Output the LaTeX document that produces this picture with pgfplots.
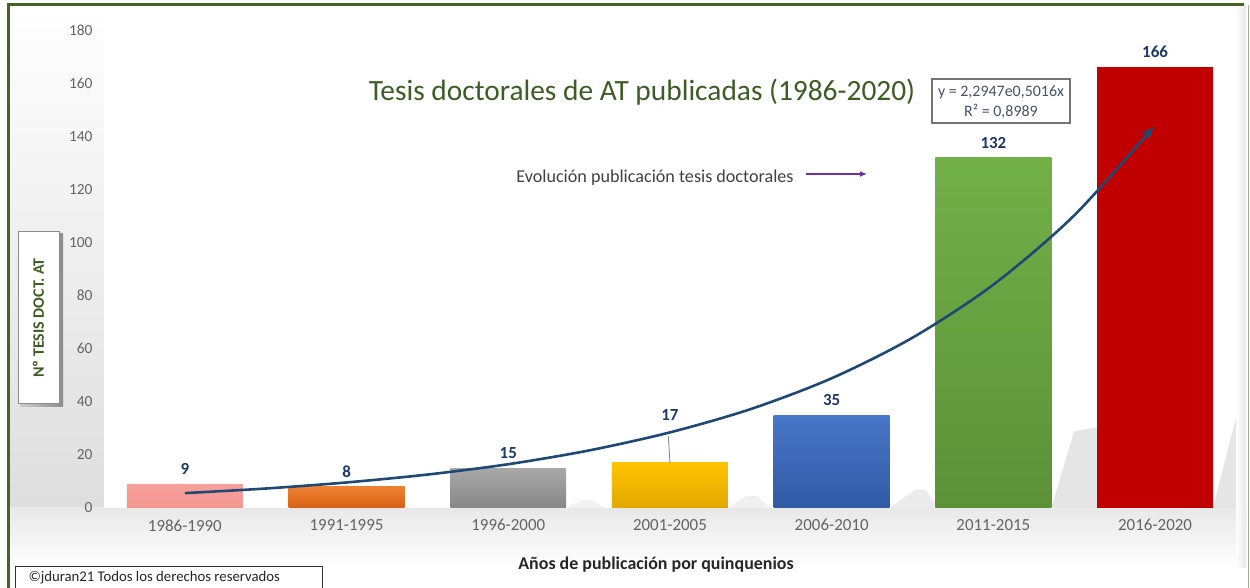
\documentclass[border=0pt]{standalone}
\usepackage{fontspec}
\setmainfont{Carlito}
\usepackage{pgfplots}
\pgfplotsset{compat=1.18}
\usetikzlibrary{arrows.meta}
\definecolor{framegreen}{RGB}{70,98,38}
\definecolor{titlegreen}{RGB}{62,92,38}
\definecolor{labelblue}{RGB}{31,56,100}
\definecolor{tickgray}{RGB}{100,100,100}
\definecolor{curveblue}{RGB}{31,73,115}
\definecolor{eqgray}{RGB}{70,82,105}
\definecolor{arrowpurple}{RGB}{112,48,160}
\definecolor{cPink}{RGB}{247,160,154}
\definecolor{cPinkB}{RGB}{244,150,144}
\definecolor{cOrange}{RGB}{238,128,52}
\definecolor{cOrangeB}{RGB}{215,98,20}
\definecolor{cGray}{RGB}{168,168,168}
\definecolor{cGrayB}{RGB}{135,135,135}
\definecolor{cYellow}{RGB}{255,195,0}
\definecolor{cYellowB}{RGB}{225,168,0}
\definecolor{cBlue}{RGB}{72,118,200}
\definecolor{cBlueB}{RGB}{50,90,165}
\definecolor{cGreen}{RGB}{114,176,72}
\definecolor{cGreenB}{RGB}{92,145,56}
\definecolor{cRed}{RGB}{192,0,0}
\begin{document}
\begin{tikzpicture}[x=1bp,y=1bp]
\useasboundingbox (0,0) rectangle (1250,588);
\fill[white] (0,0) rectangle (1250,588);
% background strips
\shade[top color=white, bottom color=black!13] (9,80) rectangle (104,583);
\shade[top color=black!9, bottom color=white] (9,20) rectangle (1246,80);
\shade[left color=white, right color=black!10] (1236,20) rectangle (1246,583);
\begin{axis}[
  at={(104bp,80bp)}, anchor=south west, scale only axis,
  width=1132bp, height=477.5bp,
  xmin=-0.5, xmax=6.5, ymin=0, ymax=180,
  ytick={0,20,...,180},
  xtick={0,...,6},
  xticklabels={1986-1990,1991-1995,1996-2000,2001-2005,2006-2010,2011-2015,2016-2020},
  axis line style={draw=none}, tick style={draw=none},
  /pgf/number format/assume math mode=true,
  yticklabel style={font=\fontsize{15.5}{15.5}\selectfont, text=tickgray, xshift=-8bp},
  xticklabel style={font=\fontsize{17}{17}\selectfont, text=tickgray, yshift=-8bp},
  axis background/.style={fill=white},
  nodes near coords style={font=\bfseries\fontsize{17}{17}\selectfont, text=labelblue, anchor=south, yshift=6bp},
]
% bar shadows
\addplot[fill=black, fill opacity=0.05, draw=none] coordinates {(2.358,0) (2.45,3) (2.52,3) (2.60,0)} \closedcycle;
\addplot[fill=black, fill opacity=0.06, draw=none] coordinates {(3.358,0) (3.47,4.5) (3.54,4.5) (3.62,0)} \closedcycle;
\addplot[fill=black, fill opacity=0.08, draw=none] coordinates {(4.358,0) (4.52,7) (4.58,7) (4.66,0)} \closedcycle;
\addplot[fill=black, fill opacity=0.10, draw=none] coordinates {(5.358,0) (5.50,29) (5.70,31) (5.75,0)} \closedcycle;
\addplot[fill=black, fill opacity=0.10, draw=none] coordinates {(6.358,0) (6.50,34) (6.50,0)} \closedcycle;
% bars
\addplot[ybar, bar shift=0, bar width=0.717, draw=none, top color=cPink, bottom color=cPinkB, nodes near coords] coordinates {(0,9)};
\addplot[ybar, bar shift=0, bar width=0.717, draw=none, top color=cOrange, bottom color=cOrangeB, nodes near coords] coordinates {(1,8)};
\addplot[ybar, bar shift=0, bar width=0.717, draw=none, top color=cGray, bottom color=cGrayB, nodes near coords] coordinates {(2,15)};
\addplot[ybar, bar shift=0, bar width=0.717, draw=none, top color=cYellow, bottom color=cYellowB, nodes near coords, nodes near coords style={yshift=33bp}] coordinates {(3,17)};
\addplot[ybar, bar shift=0, bar width=0.717, draw=none, top color=cBlue, bottom color=cBlueB, nodes near coords] coordinates {(4,35)};
\addplot[ybar, bar shift=0, bar width=0.717, draw=none, top color=cGreen, bottom color=cGreenB, nodes near coords] coordinates {(5,132)};
\addplot[ybar, bar shift=0, bar width=0.717, draw=none, top color=cRed, bottom color=cRed, nodes near coords] coordinates {(6,166)};
% leader line for label 17
\draw[gray, line width=0.8bp] (axis cs:3,17) -- (axis cs:2.99,27.0);
% trend curve
\addplot[smooth, line width=2.6bp, curveblue, -{Stealth[length=13bp,width=11bp]}] coordinates {
(0,5.6) (0.5,7.34) (1,9.63) (1.5,12.6) (2,16.5) (2.5,21.7) (3,28.5) (3.5,37.3) (4,48.9) (4.5,64.2) (5,84.2) (5.5,110.3) (5.99,143.6)};
\end{axis}
% frame
\draw[framegreen, line width=3bp] (8,-10) -- (8,583) -- (1244,583);
\draw[framegreen!50, line width=1bp] (1248,583) -- (1248,-10);
% title
\node[text=titlegreen, font=\fontsize{29.5}{29.5}\selectfont] at (642,496) {Tesis doctorales de AT publicadas (1986-2020)};
% equation box
\draw[black!55, line width=1.3bp, fill=white] (932,465) rectangle (1070,509);
\node[text=eqgray, font=\fontsize{16}{16}\selectfont] at (1001,496) {y = 2,2947e0,5016x};
\node[text=eqgray, font=\fontsize{16}{16}\selectfont] at (1001,476.5) {R² = 0,8989};
% evolution annotation
\node[text=black!75, font=\fontsize{18.2}{18.2}\selectfont] at (655,410) {Evolución publicación tesis doctorales};
\draw[arrowpurple, line width=1.3bp, -{Latex[length=7bp,width=6bp]}] (806,414) -- (867,414);
% y label box
\shade[left color=black!20, right color=black!45] (20,181) rectangle (63,354);
\draw[black!45, line width=1bp, fill=white] (18,184) rectangle (59,356);
\node[rotate=90, text=titlegreen, font=\bfseries\fontsize{16}{16}\selectfont] at (38.5,270) {Nº TESIS DOCT. AT};
% x label
\node[text=black!85, font=\bfseries\fontsize{18}{18}\selectfont] at (656,23) {Años de publicación por quinquenios};
% copyright
\draw[black!80, line width=1bp, fill=white] (15,-3) rectangle (322,21);
\node[anchor=west, text=black!85, font=\fontsize{14.8}{14.8}\selectfont] at (25,10) {©jduran21 Todos los derechos reservados};
\end{tikzpicture}
\end{document}
